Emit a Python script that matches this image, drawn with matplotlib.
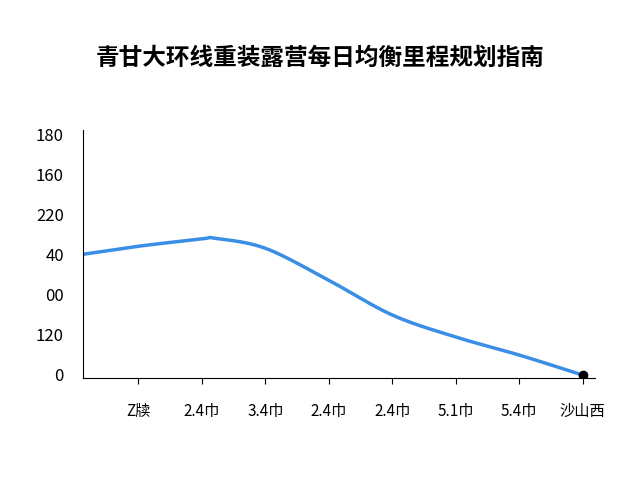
import matplotlib
matplotlib.use("Agg")
import matplotlib.pyplot as plt
import numpy as np

plt.rcParams['font.family'] = ['Noto Sans CJK SC', 'DejaVu Sans']

x_labels = ["Z牍", "2.4巾", "3.4巾", "2.4巾", "2.4巾", "5.1巾", "5.4巾", "沙山西"]
y_ticks = [0, 30, 60, 90, 120, 150, 180]
y_labels = ["0", "120", "00", "40", "220", "160", "180"]
xs = [-0.87, 0, 1, 1.2, 2, 3, 4, 5, 6, 7]
ys = [90.5, 96.5, 102, 102.5, 95, 71, 45, 28.5, 15, 0]

def catmull(px, py, n=30):
    px = np.array(px, float); py = np.array(py, float)
    P = np.vstack([px, py]).T
    P = np.vstack([P[0], P, P[-1]])
    out = []
    for i in range(1, len(P) - 2):
        p0, p1, p2, p3 = P[i-1], P[i], P[i+1], P[i+2]
        for t in np.linspace(0, 1, n, endpoint=False):
            t2, t3 = t*t, t*t*t
            out.append(0.5*((2*p1) + (-p0+p2)*t + (2*p0-5*p1+4*p2-p3)*t2 + (-p0+3*p1-3*p2+p3)*t3))
    out.append(P[-2])
    out = np.array(out)
    return out[:, 0], out[:, 1]

fig = plt.figure(figsize=(6.4, 4.8), dpi=100)
ax = fig.add_axes([0.13, 0.2125, 0.80, 0.517])
cx, cy = catmull(xs, ys)
ax.plot(cx, cy, color="#3a8ee6", lw=2.5, solid_capstyle="round")
ax.plot([xs[-1]], [ys[-1]], "o", color="black", ms=6, zorder=5)
ax.set_xlim(-0.87, 7.2)
ax.set_ylim(-2.25, 183.75)
ax.set_xticks(range(len(x_labels)))
ax.set_xticklabels(x_labels, fontsize=11)
ax.set_yticks(y_ticks)
ax.set_yticklabels(y_labels, fontsize=12)
ax.tick_params(axis='x', length=4, pad=14)
ax.tick_params(axis='y', length=0, pad=14)
for s in ["top", "right"]:
    ax.spines[s].set_visible(False)
fig.suptitle("青甘大环线重装露营每日均衡里程规划指南", y=0.905, fontsize=17, fontweight="bold")
fig.savefig("out.png")
